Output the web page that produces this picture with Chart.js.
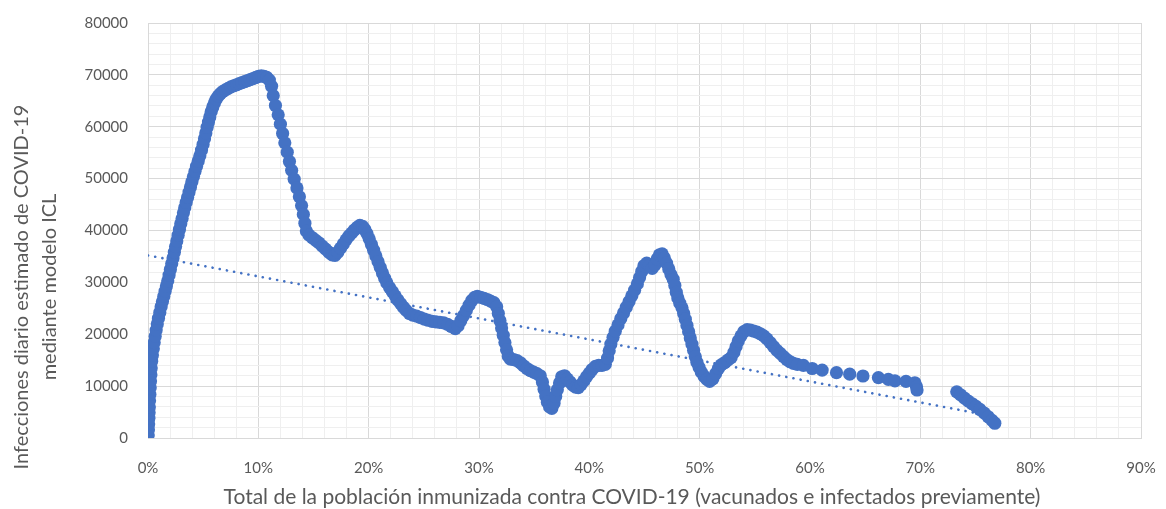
<!DOCTYPE html>
<html>
<head>
<meta charset="utf-8">
<script src="https://cdn.jsdelivr.net/npm/chart.js@4.4.1/dist/chart.umd.min.js"></script>
<style>
html,body{margin:0;padding:0;background:#ffffff;}
canvas{display:block;}
</style>
</head>
<body>
<canvas id="c" width="1166" height="509"></canvas>
<script>
// ---- Data (x: % population immunized, y: daily infections) ----
const risePct = [0.02,0.04,0.06,0.08,0.10,0.12,0.14,0.17,0.20,0.23,0.26,0.29,0.33,0.40,0.48,0.56,0.65,0.74,0.84,0.95,1.07,1.19,1.31,1.43,1.55,1.67,1.79,1.91,2.03,2.15,2.27,2.39,2.50,2.61,2.73,2.85,2.97,3.09,3.21,3.33,3.46,3.59,3.72,3.85,3.98,4.12,4.26,4.40,4.55,4.70,4.85,4.99,5.12,5.24,5.36,5.48,5.60,5.73,5.87,6.02,6.18,6.36,6.56,6.78,7.02,7.27,7.52,7.77,8.02,8.27,8.52,8.77,9.02,9.27,9.52,9.77,10.02,10.27,10.52,10.77];
const riseInf = [600,1600,2700,3800,4900,6000,7200,8400,9700,11000,12200,13500,14800,16000,17200,18400,19600,20800,22000,23100,24200,25300,26300,27300,28300,29300,30300,31400,32500,33600,34700,35800,36900,38000,39100,40200,41300,42300,43400,44400,45400,46400,47400,48400,49400,50400,51400,52400,53400,54400,55500,56600,57700,58800,59900,60900,61900,62900,63800,64600,65300,65900,66400,66800,67100,67400,67700,67900,68100,68300,68500,68700,68900,69100,69300,69500,69700,69800,69700,69500];

const secondPct = [11.00,11.20,11.35,11.55,11.80,12.00,12.20,12.40,12.62,12.82,13.02,13.25,13.50,13.72,13.92,14.08,14.22,14.35,14.60,14.90,15.20,15.50,15.80,16.10,16.40,16.70,16.95,17.20,17.45,17.70,17.95,18.20,18.45,18.70,18.95,19.20,19.45,19.65,19.85,20.05,20.25,20.45,20.65,20.85,21.05,21.25,21.45,21.65,21.90,22.15,22.40,22.65,22.90,23.15,23.40,23.70,24.00,24.35,24.70,25.05,25.40,25.75,26.10,26.45,26.80,27.15,27.50,27.85];
const secondInf = [69000,67800,66000,64100,62300,60500,58700,56900,55100,53300,51600,49900,48200,46500,44800,43100,41400,39900,39100,38600,38100,37600,37000,36400,35800,35300,35200,35800,36600,37400,38200,38900,39500,40100,40600,41000,40800,40200,39400,38400,37300,36200,35100,34000,32900,31800,30800,29900,29000,28200,27400,26600,25900,25200,24600,24000,23700,23500,23200,22900,22700,22500,22400,22300,22200,21900,21500,21100];

const thirdPct = [28.10,28.35,28.60,28.85,29.10,29.35,29.60,29.85,30.15,30.45,30.75,31.05,31.35,31.60,31.75,31.90,32.05,32.20,32.35,32.50,32.65,32.85,33.15,33.45,33.75,34.05,34.35,34.65,34.95,35.25,35.55,35.75,35.90,36.05,36.20,36.40,36.60,36.80,36.95,37.10,37.30,37.50,37.75,38.00,38.25,38.50,38.75,39.00,39.25,39.50,39.75,40.00,40.25,40.55,40.85,41.15,41.45];
const thirdInf = [21600,22600,23600,24600,25600,26500,27100,27300,27100,26900,26700,26400,26100,25300,24000,22600,21200,19800,18400,17000,15800,15200,15100,14900,14500,13900,13400,13000,12700,12400,12000,10800,9400,8100,6900,6000,5700,6700,8000,9300,10600,11800,12000,11400,10800,10200,9800,9700,10300,11000,11800,12500,13200,13800,14000,14000,14200];

const fourthPct = [41.65,41.80,41.95,42.15,42.35,42.60,42.85,43.10,43.35,43.60,43.85,44.10,44.35,44.55,44.75,44.95,45.20,45.45,45.70,45.95,46.15,46.35,46.60,46.80,47.00,47.20,47.40,47.60,47.75,47.88,48.02,48.20,48.40,48.55,48.70,48.85,49.00,49.15,49.30,49.45,49.60,49.75,49.95,50.15,50.40,50.65,50.90];
const fourthInf = [15400,16800,18100,19400,20600,21800,23000,24100,25200,26300,27400,28500,29700,30900,32100,33200,33700,33300,32700,33400,34500,35300,35500,34700,33700,32600,31500,30600,29400,28100,27000,26000,25100,24000,22900,21700,20500,19300,18100,16900,15700,14600,13600,12700,11900,11300,10900];

const fifthPct = [51.20,51.45,51.70,51.95,52.25,52.55,52.85,53.10,53.30,53.50,53.75,54.00,54.30,54.60,54.90,55.20,55.50,55.80,56.10,56.40,56.70,57.00,57.30,57.60,57.90,58.20,58.50,58.85,59.40,60.20,61.10,62.40,63.60,64.80,66.20,67.10,67.70,68.70,69.50,69.65,69.70];
const fifthInf = [11400,12400,13400,14100,14500,15000,15500,16500,17600,18700,19700,20500,20900,20800,20600,20400,20100,19700,19100,18400,17600,16900,16300,15700,15100,14700,14400,14200,14000,13400,13100,12600,12300,11950,11650,11300,11000,10900,10650,9900,9250];

const lastPct = [73.30,73.65,74.00,74.35,74.70,75.05,75.40,75.80,76.15,76.50,76.75];
const lastInf = [8900,8300,7700,7100,6600,6100,5500,4800,4100,3400,2850];

// Linear trend line (Excel dotted trendline) end points
const trendPct = [0, 76.8];
const trendInf = [35200, 4100];

// Tick labels / axis titles
const xTickValues = [0,10,20,30,40,50,60,70,80,90];
const yTickValues = [0,10000,20000,30000,40000,50000,60000,70000,80000];
const xTitle = 'Total de la población inmunizada contra COVID-19 (vacunados e infectados previamente)';
const yTitleLines = ['Infecciones diario estimado de COVID-19', 'mediante modelo ICL'];

// ---- Build chart ----
const segments = [[risePct,riseInf],[secondPct,secondInf],[thirdPct,thirdInf],[fourthPct,fourthInf],[fifthPct,fifthInf],[lastPct,lastInf]];
const scatterData = [];
segments.forEach(([xs,ys]) => xs.forEach((x,i) => scatterData.push({x:x, y:ys[i]})));
const trendData = trendPct.map((x,i) => ({x:x, y:trendInf[i]}));

const BLUE = '#4472C4';
const TEXT = '#595959';
const MAJOR = '#d9d9d9';
const MINOR = '#efefef';
const FONT = 'Lato, "Open Sans", sans-serif';

const axisTitlePlugin = {
  id: 'axisTitlePlugin',
  afterDraw(chart) {
    const ctx = chart.ctx;
    ctx.save();
    ctx.fillStyle = TEXT;
    ctx.textAlign = 'center';
    ctx.textBaseline = 'middle';
    ctx.font = '21px ' + FONT;
    ctx.fillText(xTitle, 632, 497);
    ctx.font = '20px ' + FONT;
    ctx.translate(22, 287);
    ctx.rotate(-Math.PI / 2);
    ctx.fillText(yTitleLines[0], 0, 0);
    ctx.fillText(yTitleLines[1], 0, 28);
    ctx.restore();
  }
};

new Chart(document.getElementById('c'), {
  type: 'scatter',
  data: {
    datasets: [
      {
        label: 'Infecciones',
        data: scatterData,
        backgroundColor: BLUE,
        borderColor: BLUE,
        borderWidth: 0,
        pointRadius: 6.6,
        pointHoverRadius: 6.6,
        order: 0
      },
      {
        type: 'line',
        label: 'Tendencia',
        data: trendData,
        borderColor: BLUE,
        borderWidth: 2.6,
        borderDash: [0.1, 7.2],
        borderCapStyle: 'round',
        pointRadius: 0,
        fill: false,
        order: 1
      }
    ]
  },
  options: {
    responsive: false,
    animation: false,
    events: [],
    layout: { padding: { top: 23, right: 25, bottom: 0, left: 0 } },
    plugins: { legend: { display: false }, tooltip: { enabled: false } },
    scales: {
      x: {
        type: 'linear',
        min: 0, max: 90,
        afterFit: s => { s.height = 71; s.paddingLeft = 0; s.paddingRight = 0; },
        ticks: {
          stepSize: 2,
          autoSkip: false,
          maxRotation: 0,
          padding: 21,
          color: TEXT,
          font: { family: FONT, size: 15 },
          callback: v => xTickValues.includes(Math.round(v)) && Math.abs(v - Math.round(v)) < 1e-6 ? Math.round(v) + '%' : ''
        },
        grid: {
          drawTicks: false,
          color: c => (c.tick && Math.round(c.tick.value) % 10 === 0) ? MAJOR : MINOR,
          lineWidth: 1
        },
        border: { display: true, color: MAJOR }
      },
      y: {
        type: 'linear',
        min: 0, max: 80000,
        afterFit: s => { s.width = 148; s.paddingTop = 0; s.paddingBottom = 0; },
        ticks: {
          stepSize: 2000,
          autoSkip: false,
          padding: 20,
          color: TEXT,
          font: { family: FONT, size: 15 },
          callback: v => yTickValues.includes(v) ? String(v) : ''
        },
        grid: {
          drawTicks: false,
          color: c => (c.tick && c.tick.value % 10000 === 0) ? MAJOR : MINOR,
          lineWidth: 1
        },
        border: { display: true, color: MAJOR }
      }
    }
  },
  plugins: [axisTitlePlugin]
});
</script>
</body>
</html>
